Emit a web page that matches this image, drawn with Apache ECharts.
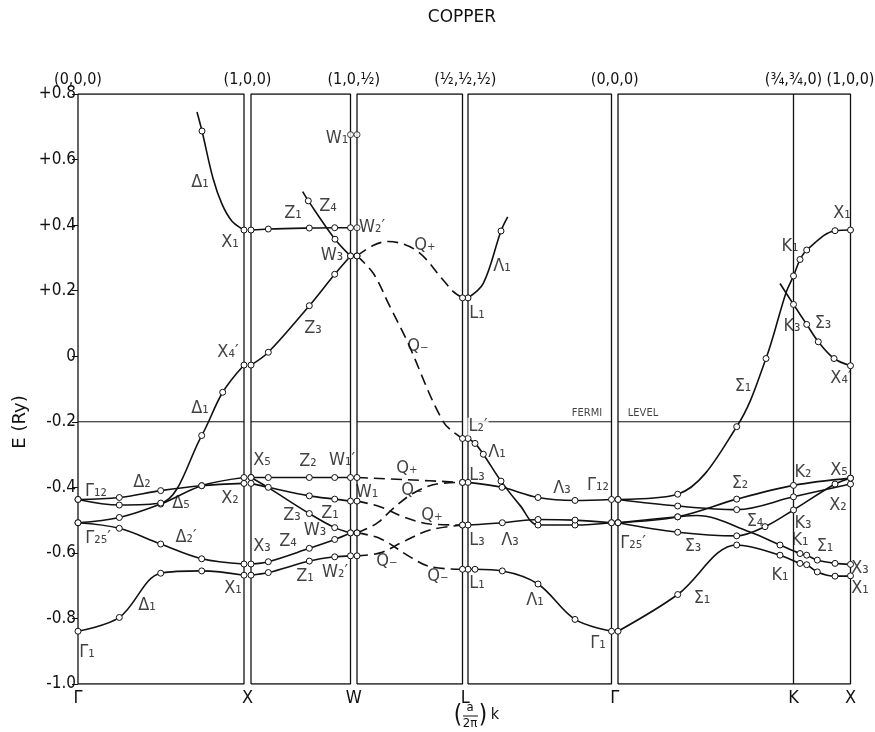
<!DOCTYPE html>
<html>
<head>
<meta charset="utf-8">
<title>Copper</title>
<script src="https://cdn.jsdelivr.net/npm/echarts@6/dist/echarts.min.js"></script>
<style>
  html, body { margin: 0; padding: 0; background: #fff; }
  #chart { width: 875px; height: 732px; }
</style>
</head>
<body>
<div id="chart"></div>
<script>
// x = distance along the k path (plot units), y = E in Ry
// a third value 0 = point, no circle drawn there

const symCenters = [0, 169.5, 275.75, 387.25, 536.75, 715.5, 772.5]
const bottomLabels = ['Γ', 'X', 'W', 'L', 'Γ', 'K', 'X']
const topLabels = ['(0,0,0)', '(1,0,0)', '(1,0,½)', '(½,½,½)', '(0,0,0)', '(¾,¾,0)', '(1,0,0)']
const panels = [[0, 166], [173, 272.5], [279, 384.5], [390, 533.5], [540, 772.5]]
const kLine = 715.5
const fermi = -0.2

// Γ - X
const gxDelta1Low = [[0, -0.839], [41.3, -0.797], [82.7, -0.662], [123.7, -0.655], [166, -0.668]]
const gxDelta2p = [[0, -0.508], [41.3, -0.525], [82.7, -0.573], [123.7, -0.618], [166, -0.634]]
const gxDelta5 = [[0, -0.508], [41.3, -0.492], [82.7, -0.451], [123.7, -0.395], [166, -0.370]]
const gxDelta2 = [[0, -0.437], [41.3, -0.431], [82.7, -0.410], [123.7, -0.395], [166, -0.388]]
const gxDelta1 = [[0, -0.437], [41.3, -0.454], [82.7, -0.448], [123.7, -0.242], [144.7, -0.110], [166, -0.027]]
const gxDelta1Up = [[119, 0.745, 0], [124, 0.687], [135, 0.543, 0], [144, 0.464, 0], [154, 0.412, 0], [166, 0.385]]

// X - W
const xwZ1Up = [[173, 0.385], [190.3, 0.388], [231.3, 0.391], [256.7, 0.392], [272.5, 0.392]]
const xwZ3Up = [[173, -0.027], [190.3, 0.012], [231.3, 0.154], [256.7, 0.250], [272.5, 0.306]]
const xwZ4Up = [[224.7, 0.502, 0], [230.3, 0.474], [257, 0.357], [272.5, 0.306]]
const xwZ2 = [[173, -0.370], [190.3, -0.370], [231.3, -0.370], [256.7, -0.370], [272.5, -0.370]]
const xwZ1 = [[173, -0.388], [190.3, -0.400], [231.3, -0.426], [256.7, -0.436], [272.5, -0.442]]
const xwZ3 = [[173, -0.370], [190.3, -0.401, 0], [231.3, -0.480], [256.7, -0.523], [272.5, -0.539]]
const xwZ4 = [[173, -0.634], [190.3, -0.627], [231.3, -0.586], [256.7, -0.559], [272.5, -0.539]]
const xwZ1Low = [[173, -0.668], [190.3, -0.660], [231.3, -0.625], [256.7, -0.612], [272.5, -0.609]]

// W - L (dashed)
const wlQplusUp = [[279, 0.306], [295, 0.338, 0], [310, 0.350, 0], [338.7, 0.322, 0], [365.3, 0.232, 0], [375.3, 0.197, 0], [384.5, 0.178]]
const wlQminusUp = [[279, 0.306], [295.3, 0.253, 0], [312, 0.151, 0], [328.7, 0.049, 0], [365.3, -0.200, 0], [384.5, -0.251]]
const wlQplus1 = [[279, -0.370], [330, -0.377, 0], [384.5, -0.385]]
const wlQplus2 = [[279, -0.442], [302, -0.459, 0], [325.3, -0.490, 0], [352, -0.512, 0], [384.5, -0.515]]
const wlQminus1 = [[279, -0.539], [298.7, -0.510, 0], [315.3, -0.464, 0], [335.3, -0.418, 0], [358.7, -0.390, 0], [384.5, -0.385]]
const wlQminus2 = [[279, -0.539], [302, -0.556, 0], [332, -0.612, 0], [352, -0.642, 0], [384.5, -0.650]]
const wlQminus3 = [[279, -0.609], [302, -0.600, 0], [325.3, -0.566, 0], [352, -0.530, 0], [384.5, -0.515]]

// L - Γ
const lgLambda1Up = [[390, 0.178], [405.3, 0.222, 0], [423, 0.382], [429.7, 0.425, 0]]
const lgLambda1 = [[390, -0.251], [397, -0.266], [405.3, -0.299], [423, -0.381], [442, -0.455, 0], [460, -0.515], [497, -0.515], [533.5, -0.508]]
const lgLambda3Up = [[390, -0.385], [424, -0.400], [460, -0.431], [497, -0.440], [533.5, -0.437]]
const lgLambda3Low = [[390, -0.515], [424.3, -0.508], [460, -0.498], [497, -0.500], [533.5, -0.508]]
const lgLambda1Low = [[390, -0.650], [397, -0.650], [424.3, -0.655], [460, -0.695], [497, -0.803], [533.5, -0.839]]

// Γ - K - X
const gkSigma1Up = [[540, -0.437], [599.7, -0.421], [658.7, -0.215], [688, -0.007], [708, 0.194, 0], [715.5, 0.245], [722, 0.295], [728.7, 0.324], [757, 0.383], [772.5, 0.385]]
const gkSigma3Up = [[702, 0.222, 0], [715.5, 0.158], [728.7, 0.097], [740.3, 0.044], [756, -0.007], [772.5, -0.029]]
const gkSigma4 = [[540, -0.437], [599.7, -0.457], [658.7, -0.468], [715.5, -0.429], [772.5, -0.390]]
const gkSigma2 = [[540, -0.508], [599.7, -0.490], [658.7, -0.436], [715.5, -0.394], [772.5, -0.372]]
const gkSigma3 = [[540, -0.508], [599.7, -0.537], [658.7, -0.548], [687, -0.520], [715.5, -0.469], [757, -0.390], [772.5, -0.372]]
const gkSigma1Mid = [[540, -0.508], [599.7, -0.490], [618.7, -0.486, 0], [672, -0.536, 0], [702, -0.576], [722, -0.602], [728.7, -0.607], [739.3, -0.622], [757, -0.632], [772.5, -0.635]]
const gkSigma1Low = [[540, -0.839], [599.7, -0.727], [658.7, -0.576], [702, -0.607], [722, -0.632], [728.7, -0.636], [739.3, -0.658], [757, -0.671], [772.5, -0.670]]

// lone points at W
const wPoints = [[272.5, 0.676], [279, 0.676], [279, 0.392]]

// state labels [text, x, E]
const stateLabels = [
  ['Γ₁₂', 18, -0.411], ['Γ₂₅′', 20, -0.555], ['Γ₁', 9, -0.903],
  ['Δ₂', 64, -0.384], ['Δ₅', 103, -0.448], ['X₂', 152, -0.433], ['Δ₂′', 108, -0.552],
  ['Δ₁', 69, -0.759], ['X₁', 155, -0.707], ['Δ₁', 122, -0.158], ['X₄′', 150, 0.012],
  ['X₁', 152, 0.346], ['Δ₁', 122, 0.532],
  ['X₅', 184, -0.317], ['X₃', 184, -0.581], ['Z₂', 230, -0.322], ['W₁′', 264, -0.317],
  ['W₁', 289, -0.414], ['Z₃', 214, -0.485], ['Z₁', 252, -0.480], ['W₃', 237, -0.530],
  ['Z₄', 210, -0.566], ['Z₁', 227, -0.673], ['W₂′', 257, -0.658],
  ['Z₁', 215, 0.436], ['Z₄', 250, 0.456], ['W₂′', 294, 0.392], ['W₃', 254, 0.309],
  ['Z₃', 235, 0.085], ['W₁', 259, 0.665],
  ['Q₊', 347, 0.339], ['Q₋', 340, 0.029], ['Q₊', 329, -0.342], ['Q₋', 334, -0.408],
  ['Q₊', 354, -0.485], ['Q₋', 309, -0.627], ['Q₋', 360, -0.673],
  ['L₁', 399, 0.131], ['Λ₁', 424, 0.273], ['L₂′', 400, -0.215], ['Λ₁', 419, -0.292],
  ['L₃', 399, -0.363], ['Λ₃', 484, -0.403], ['Γ₁₂', 520, -0.393], ['L₃', 399, -0.561],
  ['Λ₃', 432, -0.561], ['L₁', 399, -0.693], ['Λ₁', 457, -0.744], ['Γ₁', 520, -0.876],
  ['Γ₂₅′', 555, -0.571], ['Σ₁', 624, -0.739], ['Σ₃', 615, -0.581], ['Σ₂', 662, -0.388],
  ['Σ₄', 677, -0.505], ['K₂', 725, -0.353], ['X₅', 761, -0.347], ['X₂', 760, -0.454],
  ['K₃', 725, -0.510], ['K₁', 722, -0.561], ['Σ₁', 747, -0.581], ['X₃', 782, -0.647],
  ['X₁', 782, -0.708], ['K₁', 702, -0.668], ['Σ₁', 665, -0.093],
  ['X₁', 764, 0.436], ['K₁', 712, 0.334], ['K₃', 714, 0.090], ['Σ₃', 745, 0.100], ['X₄′', 763, -0.068]
]
const fermiText = [['FERMI', 509, -0.174], ['LEVEL', 565, -0.174]]

const solidBands = [gxDelta1Low, gxDelta2p, gxDelta5, gxDelta2, gxDelta1, gxDelta1Up,
  xwZ1Up, xwZ3Up, xwZ4Up, xwZ2, xwZ1, xwZ3, xwZ4, xwZ1Low,
  lgLambda1Up, lgLambda1, lgLambda3Up, lgLambda3Low, lgLambda1Low,
  gkSigma1Up, gkSigma3Up, gkSigma4, gkSigma2, gkSigma3, gkSigma1Mid, gkSigma1Low]
const dashedBands = [wlQplusUp, wlQminusUp, wlQplus1, wlQplus2, wlQminus1, wlQminus2, wlQminus3]

// ------------------------------------------------------------------
const ink = '#111'
const font = "'DejaVu Sans Condensed', 'Liberation Sans Narrow', 'DejaVu Sans', sans-serif"
const myChart = echarts.init(document.getElementById('chart'))

function pickLabel(list) {
  return function (v) {
    const i = symCenters.findIndex((c) => Math.abs(c - v) < 0.01)
    return i < 0 ? '' : list[i]
  }
}

function bandData(pts) {
  return pts.map((p) => (p[2] === 0 ? { value: [p[0], p[1]], symbol: 'none' } : [p[0], p[1]]))
}

function bandSeries(pts, dashed) {
  return {
    type: 'line',
    data: bandData(pts),
    smooth: 0.35,
    symbol: 'circle',
    symbolSize: 6,
    showSymbol: true,
    silent: true,
    z: 3,
    lineStyle: { color: ink, width: 1.6, type: dashed ? [11, 6] : 'solid' },
    itemStyle: { color: '#fff', borderColor: ink, borderWidth: 1 },
  }
}

function plainLine(data, width) {
  return {
    type: 'line',
    data: data,
    symbol: 'none',
    silent: true,
    z: 2,
    lineStyle: { color: ink, width: width },
  }
}

const series = []
// panel boxes and the fermi level
panels.forEach(([a, b]) => {
  series.push(plainLine([[a, -1], [a, 0.8], [b, 0.8], [b, -1], [a, -1]], 1.3))
  series.push(plainLine([[a, fermi], [b, fermi]], 1))
})
series.push(plainLine([[kLine, -1], [kLine, 0.8]], 1.3))

solidBands.forEach((b) => series.push(bandSeries(b, false)))
dashedBands.forEach((b) => series.push(bandSeries(b, true)))

series.push({
  type: 'scatter',
  data: wPoints,
  symbol: 'circle',
  symbolSize: 6,
  silent: true,
  z: 4,
  itemStyle: { color: '#fff', borderColor: ink, borderWidth: 1 },
})

series.push({
  type: 'scatter',
  clip: false,
  silent: true,
  z: 5,
  symbolSize: 1,
  itemStyle: { color: 'transparent' },
  data: stateLabels.map((l) => ({
    name: l[0],
    value: [l[1], l[2]],
    label: l[0] === 'L₂′' ? { backgroundColor: '#fff', padding: [0, 1] } : undefined,
  })),
  label: { show: true, position: 'inside', formatter: '{b}', color: ink, fontSize: 18, fontFamily: font },
})
series.push({
  type: 'scatter',
  clip: false,
  silent: true,
  z: 5,
  symbolSize: 1,
  itemStyle: { color: 'transparent' },
  data: fermiText.map((l) => ({ name: l[0], value: [l[1], l[2]] })),
  label: { show: true, position: 'inside', formatter: '{b}', color: ink, fontSize: 11, fontFamily: font },
})

const option = {
  animation: false,
  backgroundColor: '#fff',
  grid: { left: 78, right: 24.5, top: 94, bottom: 48, outerBoundsMode: 'none' },
  xAxis: [
    {
      type: 'value', min: 0, max: 772.5, position: 'bottom',
      axisLine: { show: false }, axisTick: { show: false }, splitLine: { show: false },
      axisLabel: { customValues: symCenters, formatter: pickLabel(bottomLabels), fontSize: 18, margin: 5, color: ink, fontFamily: font },
    },
    {
      type: 'value', min: 0, max: 772.5, position: 'top',
      axisLine: { show: false }, axisTick: { show: false }, splitLine: { show: false },
      axisLabel: { customValues: symCenters, formatter: pickLabel(topLabels), fontSize: 16, margin: 6, color: ink, fontFamily: font },
    },
  ],
  yAxis: [
    {
      type: 'value', min: -1, max: 0.8, interval: 0.2, position: 'left',
      axisLine: { show: false }, splitLine: { show: false },
      axisTick: { show: true, length: 3, lineStyle: { color: ink } },
      axisLabel: {
        margin: 2, fontSize: 17, color: ink, fontFamily: font,
        formatter: (v) => (Math.abs(v) < 1e-9 ? '0' : v > 0 ? '+' + v.toFixed(1) : v.toFixed(1)),
      },
    },
    {
      type: 'value', min: -1, max: 0.8, interval: 0.2, position: 'right',
      axisLine: { show: false }, splitLine: { show: false }, axisLabel: { show: false },
      axisTick: { show: true, inside: true, length: 6, lineStyle: { color: ink } },
    },
  ],
  graphic: [
    { type: 'text', x: 462, y: 18, style: { text: 'COPPER', fill: ink, font: "17px 'DejaVu Sans', sans-serif", align: 'center', verticalAlign: 'middle' } },
    { type: 'text', x: 20, y: 422, rotation: Math.PI / 2, style: { text: 'E (Ry)', fill: ink, font: "18px 'DejaVu Sans', sans-serif", align: 'center', verticalAlign: 'middle' } },
    { type: 'text', x: 458, y: 716, style: { text: '(', fill: ink, font: '24px ' + font, align: 'center', verticalAlign: 'middle' } },
    { type: 'text', x: 470, y: 708, style: { text: 'a', fill: ink, font: '13px ' + font, align: 'center', verticalAlign: 'middle' } },
    { type: 'line', shape: { x1: 463, y1: 716, x2: 478, y2: 716 }, style: { stroke: ink, lineWidth: 1 } },
    { type: 'text', x: 470, y: 724, style: { text: '2π', fill: ink, font: '13px ' + font, align: 'center', verticalAlign: 'middle' } },
    { type: 'text', x: 483, y: 716, style: { text: ')', fill: ink, font: '24px ' + font, align: 'center', verticalAlign: 'middle' } },
    { type: 'text', x: 495, y: 715, style: { text: 'k', fill: ink, font: '16px ' + font, align: 'center', verticalAlign: 'middle' } },
  ],
  series: series,
}

option && myChart.setOption(option)
</script>
</body>
</html>
